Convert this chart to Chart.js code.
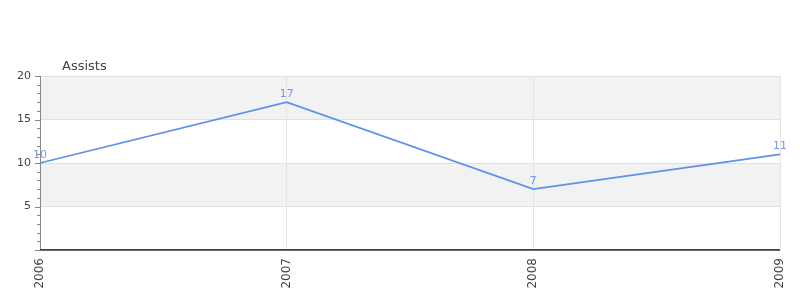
<!DOCTYPE html>
<html>
<head>
<meta charset="utf-8">
<script src="https://cdn.jsdelivr.net/npm/chart.js@4"></script>
<style>
html,body{margin:0;padding:0;background:#fff;}
#wrap{width:800px;height:300px;}
</style>
</head>
<body>
<div id="wrap"><canvas id="c" width="800" height="300"></canvas></div>
<script>
const categories = ['2006', '2007', '2008', '2009'];
const assists = [10, 17, 7, 11];
const seriesName = 'Assists';
const yTickLabels = [5, 10, 15, 20];
const bandRanges = [[15, 20], [5, 10]];

const LINE = '#6190EA';
const LABEL = '#6C9BEE';
const FONT = '"DejaVu Sans", sans-serif';

const bands = {
  id: 'bands',
  beforeDraw(chart) {
    const {ctx, chartArea, scales} = chart;
    ctx.save();
    ctx.fillStyle = '#fff';
    ctx.fillRect(0, 0, chart.width, chart.height);
    ctx.fillStyle = '#f2f2f2';
    bandRanges.forEach(([a, b]) => {
      const y1 = scales.y.getPixelForValue(b);
      const y2 = scales.y.getPixelForValue(a);
      ctx.fillRect(chartArea.left, y1, chartArea.right - chartArea.left, y2 - y1);
    });
    ctx.restore();
  }
};

const extras = {
  id: 'extras',
  afterDraw(chart) {
    const {ctx, chartArea, scales} = chart;
    const y = scales.y;
    ctx.save();
    // title
    ctx.font = '13px ' + FONT;
    ctx.fillStyle = '#444';
    ctx.textAlign = 'left';
    ctx.textBaseline = 'middle';
    ctx.fillText(seriesName, chartArea.left + 22, chartArea.top - 9.5);
    // y tick marks
    ctx.strokeStyle = '#888';
    ctx.lineWidth = 1;
    for (let v = y.min; v <= y.max; v++) {
      const py = Math.round(y.getPixelForValue(v)) + 0.5;
      const len = v % 5 === 0 ? 5 : 3;
      ctx.beginPath();
      ctx.moveTo(chartArea.left - len, py);
      ctx.lineTo(chartArea.left, py);
      ctx.stroke();
    }
    // y axis line
    ctx.beginPath();
    ctx.moveTo(chartArea.left + 0.5, chartArea.top);
    ctx.lineTo(chartArea.left + 0.5, chartArea.bottom);
    ctx.stroke();
    // zero lines
    const y0 = Math.round(y.getPixelForValue(0));
    ctx.strokeStyle = '#666';
    ctx.beginPath();
    ctx.moveTo(chartArea.left, y0 + 0.5);
    ctx.lineTo(chartArea.right, y0 + 0.5);
    ctx.stroke();
    ctx.strokeStyle = '#e00000';
    ctx.beginPath();
    ctx.moveTo(chartArea.left, y0 - 0.5);
    ctx.lineTo(chartArea.right, y0 - 0.5);
    ctx.stroke();
    // data labels
    const meta = chart.getDatasetMeta(0);
    ctx.font = '11px ' + FONT;
    ctx.fillStyle = LABEL;
    ctx.textAlign = 'center';
    ctx.textBaseline = 'alphabetic';
    meta.data.forEach((pt, i) => {
      ctx.fillText(String(chart.data.datasets[0].data[i]), pt.x, pt.y - 5);
    });
    ctx.restore();
  }
};

new Chart(document.getElementById('c'), {
  type: 'line',
  data: {
    labels: categories,
    datasets: [{
      label: seriesName,
      data: assists,
      borderColor: LINE,
      backgroundColor: LINE,
      borderWidth: 1.8,
      pointRadius: 0,
      pointHoverRadius: 0,
      tension: 0,
      clip: false
    }]
  },
  options: {
    responsive: false,
    animation: false,
    events: [],
    layout: {padding: {top: 76, right: 20, left: 0, bottom: 0}},
    plugins: {
      legend: {display: false},
      tooltip: {enabled: false},
      title: {display: false}
    },
    scales: {
      x: {
        type: 'category',
        offset: false,
        grid: {color: '#e4e4e4', drawTicks: false},
        border: {display: false},
        ticks: {
          minRotation: 90, maxRotation: 90, padding: 8,
          color: '#444', font: {family: FONT, size: 12}
        },
        afterFit(s) { s.height = 50; s.paddingLeft = 0; s.paddingRight = 0; }
      },
      y: {
        min: 0, max: 20,
        afterBuildTicks(s) { s.ticks = [0].concat(yTickLabels).map(v => ({value: v})); },
        grid: {color: '#e0e0e0', drawTicks: false},
        border: {display: false},
        ticks: {
          padding: 9,
          color: '#444',
          font: {family: FONT, size: 11},
          callback: v => (v === 0 ? '' : String(v))
        },
        afterFit(s) { s.width = 40; s.paddingTop = 0; s.paddingBottom = 0; }
      }
    }
  },
  plugins: [bands, extras]
});
</script>
</body>
</html>
